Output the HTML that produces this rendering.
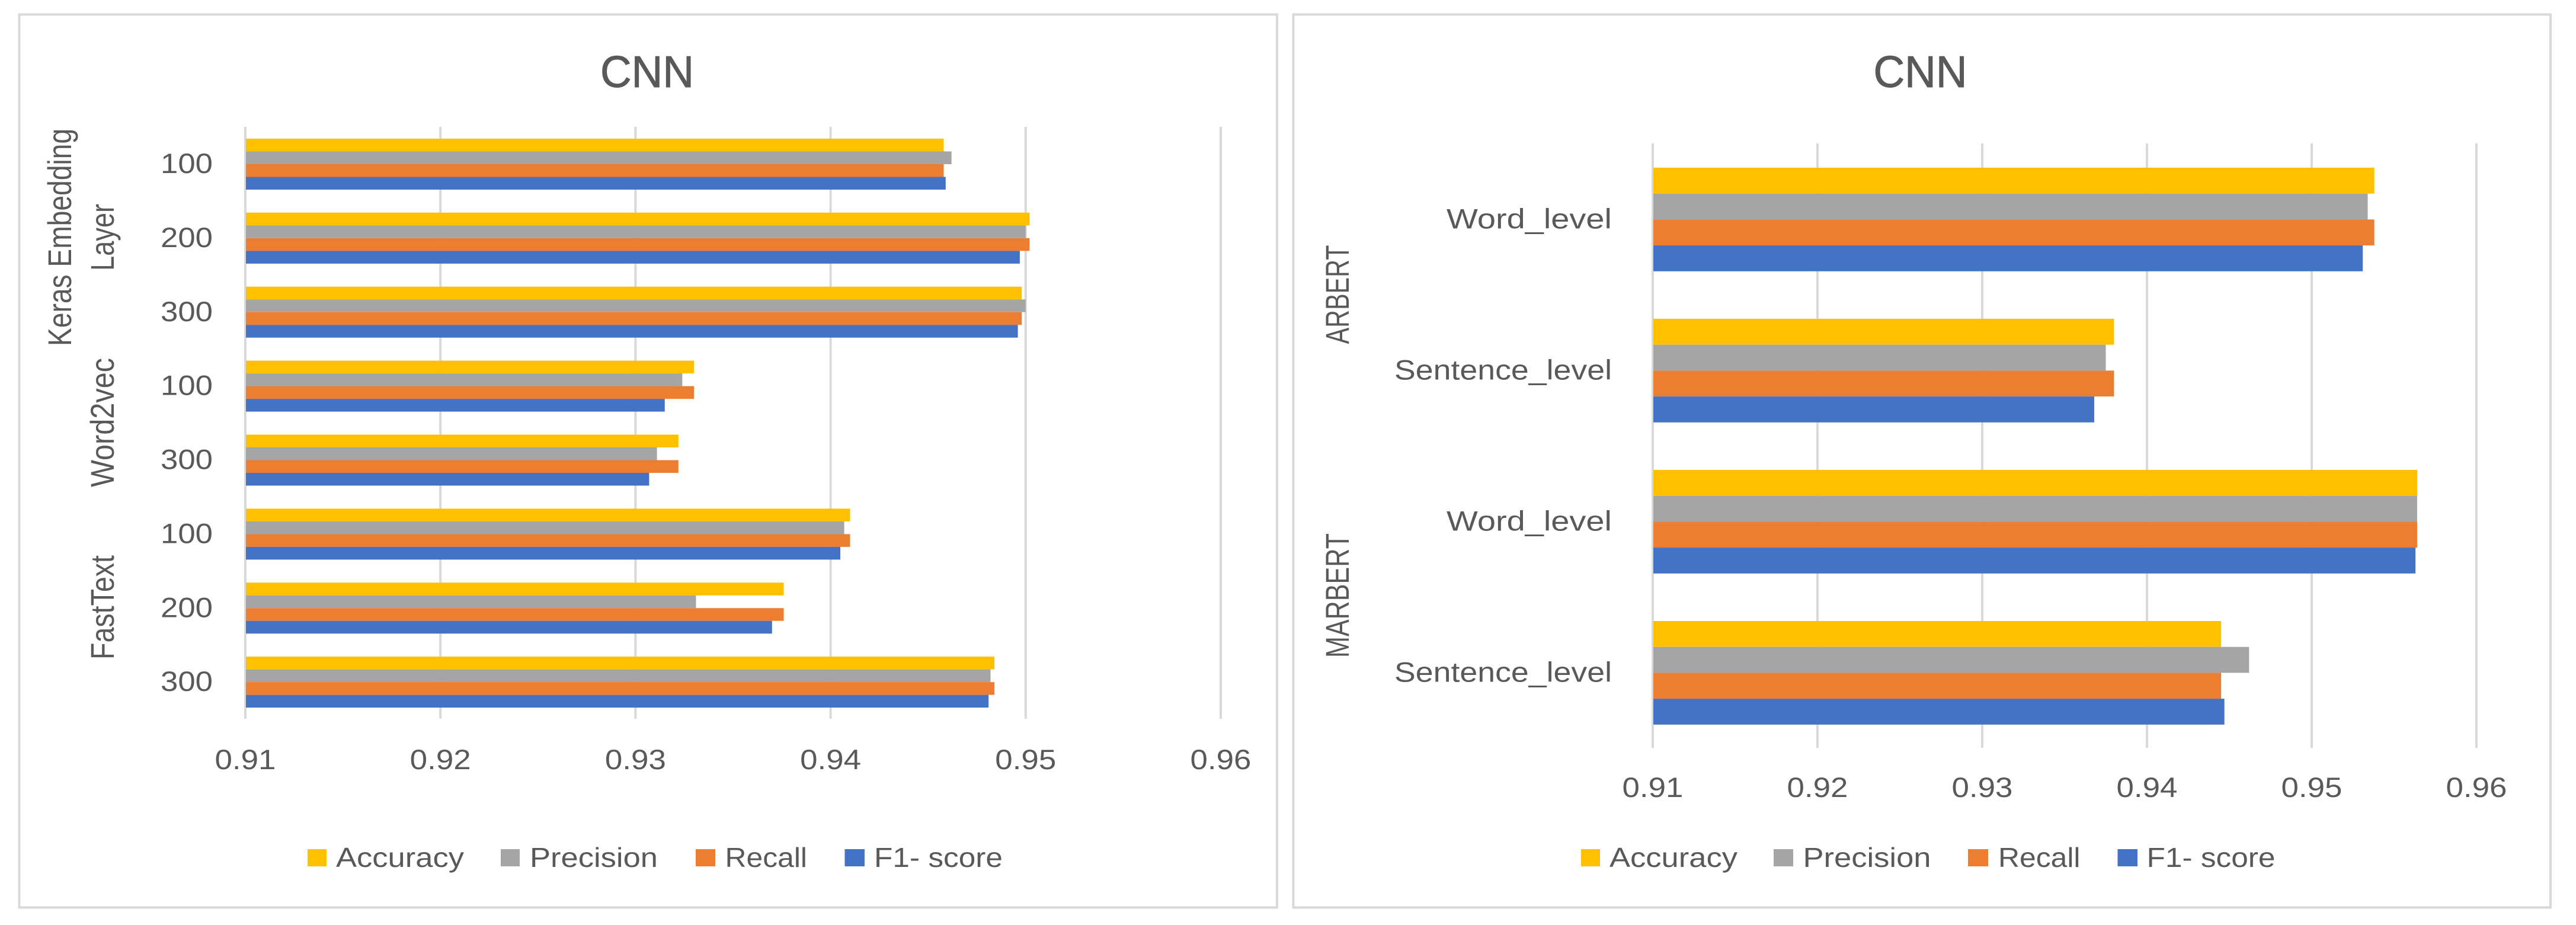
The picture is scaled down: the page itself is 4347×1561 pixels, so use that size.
<!DOCTYPE html>
<html lang="en">
<head>
<meta charset="utf-8">
<title>CNN comparison charts</title>
<style>
  html, body { margin: 0; padding: 0; background: #ffffff; }
  svg { display: block; }
  text { font-family: "Liberation Sans", sans-serif; fill: #595959; }
  .chart-title { stroke: #595959; stroke-width: 1; }
</style>
</head>
<body>
<svg id="figure" xmlns="http://www.w3.org/2000/svg" width="4347" height="1561" viewBox="0 0 4347 1561">
  <rect x="0" y="0" width="4347" height="1561" fill="#ffffff"/>

  <g id="left-chart">
    <rect x="32.5" y="24.5" width="2122.5" height="1507" fill="#ffffff" stroke="#d9d9d9" stroke-width="4"/>
    <text class="chart-title" x="1092" y="147" font-size="75" text-anchor="middle" textLength="158" lengthAdjust="spacingAndGlyphs">CNN</text>
    <g id="left-grid"></g>
    <g id="left-bars"></g>
    <g id="left-ticks"></g>
    <g id="left-cats"></g>
    <text transform="translate(120 584) rotate(-90)" font-size="56" textLength="367" lengthAdjust="spacingAndGlyphs">Keras Embedding</text>
    <text transform="translate(192 457) rotate(-90)" font-size="56" textLength="113" lengthAdjust="spacingAndGlyphs">Layer</text>
    <text transform="translate(192 822) rotate(-90)" font-size="56" textLength="218" lengthAdjust="spacingAndGlyphs">Word2vec</text>
    <text transform="translate(192 1113) rotate(-90)" font-size="56" textLength="176" lengthAdjust="spacingAndGlyphs">FastText</text>
    <g>
      <g>
        <rect x="519" y="1433" width="32" height="29" fill="#ffc000"/>
        <text x="567" y="1463" font-size="46" textLength="216" lengthAdjust="spacingAndGlyphs">Accuracy</text>
      </g>
      <g>
        <rect x="845" y="1433" width="32" height="29" fill="#a5a5a5"/>
        <text x="894" y="1463" font-size="46" textLength="216" lengthAdjust="spacingAndGlyphs">Precision</text>
      </g>
      <g>
        <rect x="1174" y="1433" width="33" height="29" fill="#ed7d31"/>
        <text x="1223.5" y="1463" font-size="46" textLength="138.5" lengthAdjust="spacingAndGlyphs">Recall</text>
      </g>
      <g>
        <rect x="1425.5" y="1433" width="33.5" height="29" fill="#4472c4"/>
        <text x="1475" y="1463" font-size="46" textLength="217" lengthAdjust="spacingAndGlyphs">F1- score</text>
      </g>
    </g>
  </g>

  <g id="right-chart">
    <rect x="2182.5" y="24.5" width="2121.5" height="1507" fill="#ffffff" stroke="#d9d9d9" stroke-width="4"/>
    <text class="chart-title" x="3240.5" y="147" font-size="75" text-anchor="middle" textLength="158" lengthAdjust="spacingAndGlyphs">CNN</text>
    <g id="right-grid"></g>
    <g id="right-bars"></g>
    <g id="right-ticks"></g>
    <g id="right-cats"></g>
    <text transform="translate(2276 580.5) rotate(-90)" font-size="56" textLength="167" lengthAdjust="spacingAndGlyphs">ARBERT</text>
    <text transform="translate(2276 1110) rotate(-90)" font-size="56" textLength="210" lengthAdjust="spacingAndGlyphs">MARBERT</text>
    <g>
      <g>
        <rect x="2668" y="1433" width="32" height="29" fill="#ffc000"/>
        <text x="2716" y="1463" font-size="46" textLength="216" lengthAdjust="spacingAndGlyphs">Accuracy</text>
      </g>
      <g>
        <rect x="2993" y="1433" width="33" height="29" fill="#a5a5a5"/>
        <text x="3042.5" y="1463" font-size="46" textLength="216" lengthAdjust="spacingAndGlyphs">Precision</text>
      </g>
      <g>
        <rect x="3321" y="1433" width="34" height="29" fill="#ed7d31"/>
        <text x="3372" y="1463" font-size="46" textLength="138.5" lengthAdjust="spacingAndGlyphs">Recall</text>
      </g>
      <g>
        <rect x="3573.5" y="1433" width="33.5" height="29" fill="#4472c4"/>
        <text x="3622.5" y="1463" font-size="46" textLength="217" lengthAdjust="spacingAndGlyphs">F1- score</text>
      </g>
    </g>
  </g>
</svg>

<script>
// ---- data ----
const xTickValues = [0.91, 0.92, 0.93, 0.94, 0.95, 0.96];
const xTickLabels = ['0.91', '0.92', '0.93', '0.94', '0.95', '0.96'];
const seriesNames = ['accuracy', 'precision', 'recall', 'f1-score'];
const seriesColors = ['#ffc000', '#a5a5a5', '#ed7d31', '#4472c4'];

const leftCategories = ['100', '200', '300', '100', '300', '100', '200', '300'];
const leftAccuracy  = [0.9458, 0.9502, 0.9498, 0.9330, 0.9322, 0.9410, 0.9376, 0.9484];
const leftPrecision = [0.9462, 0.9500, 0.9500, 0.9324, 0.9311, 0.9407, 0.9331, 0.9482];
const leftRecall    = [0.9458, 0.9502, 0.9498, 0.9330, 0.9322, 0.9410, 0.9376, 0.9484];
const leftF1        = [0.9459, 0.9497, 0.9496, 0.9315, 0.9307, 0.9405, 0.9370, 0.9481];

const rightCategories = ['Word_level', 'Sentence_level', 'Word_level', 'Sentence_level'];
const rightAccuracy  = [0.9538, 0.9380, 0.9564, 0.9445];
const rightPrecision = [0.9534, 0.9375, 0.9564, 0.9462];
const rightRecall    = [0.9538, 0.9380, 0.9564, 0.9445];
const rightF1        = [0.9531, 0.9368, 0.9563, 0.9447];

// ---- drawing ----
const SVGNS = 'http://www.w3.org/2000/svg';

function drawChart(prefix, layout, categories, seriesValues) {
  const gridG = document.getElementById(prefix + '-grid');
  const barsG = document.getElementById(prefix + '-bars');
  const ticksG = document.getElementById(prefix + '-ticks');
  const catsG = document.getElementById(prefix + '-cats');

  const xScale = function (v) {
    return layout.x0 + (v - xTickValues[0]) * layout.pxPerUnit;
  };
  const band = (layout.plotBottom - layout.plotTop) / categories.length;
  const yBar = function (groupIndex, seriesIndex) {
    return layout.plotTop + band * groupIndex + layout.barOffset + layout.barHeight * seriesIndex;
  };

  xTickValues.forEach(function (v, i) {
    const line = document.createElementNS(SVGNS, 'line');
    
    
    line.setAttribute('x1', xScale(v));
    line.setAttribute('x2', xScale(v));
    line.setAttribute('y1', layout.plotTop);
    line.setAttribute('y2', layout.plotBottom);
    line.setAttribute('stroke', '#d9d9d9');
    line.setAttribute('stroke-width', '4');
    gridG.appendChild(line);

    const tick = document.createElementNS(SVGNS, 'text');
    
    
    tick.setAttribute('x', xScale(v));
    tick.setAttribute('y', layout.tickBaseline);
    tick.setAttribute('font-size', '47');
    tick.setAttribute('text-anchor', 'middle');
    tick.setAttribute('textLength', '103');
    tick.setAttribute('lengthAdjust', 'spacingAndGlyphs');
    tick.textContent = xTickLabels[i];
    ticksG.appendChild(tick);
  });

  categories.forEach(function (name, g) {
    seriesValues.forEach(function (values, s) {
      const bar = document.createElementNS(SVGNS, 'rect');
      
      
      bar.setAttribute('x', xScale(xTickValues[0]) + 1);
      bar.setAttribute('y', yBar(g, s));
      bar.setAttribute('width', xScale(values[g]) - xScale(xTickValues[0]) - 1);
      bar.setAttribute('height', layout.barHeight);
      bar.setAttribute('fill', seriesColors[s]);
      barsG.appendChild(bar);
    });

    const cat = document.createElementNS(SVGNS, 'text');
    
    
    cat.setAttribute('x', layout.catRight);
    cat.setAttribute('y', yBar(g, 2) + layout.catBaselineShift);
    cat.setAttribute('font-size', '47');
    cat.setAttribute('text-anchor', 'end');
    cat.setAttribute('textLength', layout.catWidth(name));
    cat.setAttribute('lengthAdjust', 'spacingAndGlyphs');
    cat.textContent = name;
    catsG.appendChild(cat);
  });
}

drawChart('left', {
  x0: 414, pxPerUnit: 32920,
  plotTop: 214, plotBottom: 1213,
  barOffset: 20, barHeight: 21.5,
  tickBaseline: 1298,
  catRight: 359, catBaselineShift: 15,
  catWidth: function () { return 88; }
}, leftCategories, [leftAccuracy, leftPrecision, leftRecall, leftF1]);

drawChart('right', {
  x0: 2789, pxPerUnit: 27800,
  plotTop: 242, plotBottom: 1262,
  barOffset: 41, barHeight: 43.7,
  tickBaseline: 1345,
  catRight: 2720, catBaselineShift: 15,
  catWidth: function (name) { return name.length > 10 ? 367 : 279; }
}, rightCategories, [rightAccuracy, rightPrecision, rightRecall, rightF1]);
</script>
</body>
</html>
